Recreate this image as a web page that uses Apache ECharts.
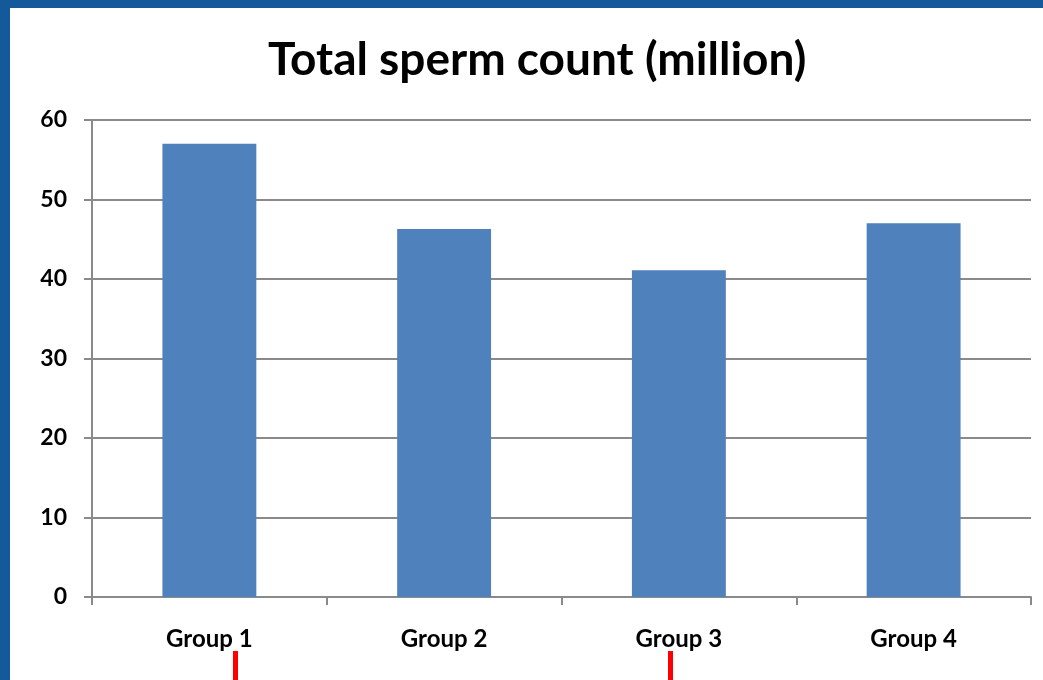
<!DOCTYPE html>
<html>
<head>
<meta charset="utf-8">
<script src="https://cdn.jsdelivr.net/npm/echarts@6/dist/echarts.min.js"></script>
<style>
  html, body { margin: 0; padding: 0; width: 1043px; height: 680px; overflow: hidden; background: #145a9b; }
  #chart { position: absolute; left: 10px; top: 8px; width: 1033px; height: 672px; background: #ffffff; }
</style>
</head>
<body>
<div id="chart"></div>
<script>
// Chart data
const titleText = 'Total sperm count (million)';
const categories = ['Group 1', 'Group 2', 'Group 3', 'Group 4'];
const spermCount = [57.0, 46.3, 41.1, 47.0];
const yTicks = [0, 10, 20, 30, 40, 50, 60];

const FONT = 'Lato, "Open Sans", sans-serif';
const chart = echarts.init(document.getElementById('chart'), null, { renderer: 'canvas' });

chart.setOption({
  animation: false,
  backgroundColor: '#ffffff',
  title: {
    text: titleText,
    left: 258,
    top: 29,
    padding: 0,
    textStyle: { fontFamily: FONT, fontWeight: 'bold', fontSize: 46, color: '#000000' }
  },
  grid: { left: 82, right: 12, top: 112, bottom: 83, containLabel: false },
  xAxis: {
    type: 'category',
    data: categories,
    axisLine: { lineStyle: { color: '#8a8a8a', width: 2 } },
    axisTick: { show: true, length: 8, alignWithLabel: false, lineStyle: { color: '#8a8a8a', width: 2 } },
    axisLabel: { margin: 30, fontFamily: FONT, fontWeight: 'bold', fontSize: 24, color: '#000000' }
  },
  yAxis: {
    type: 'value',
    min: yTicks[0],
    max: yTicks[yTicks.length - 1],
    interval: 10,
    axisLine: { show: true, lineStyle: { color: '#8a8a8a', width: 2 } },
    axisTick: { show: true, length: 8, lineStyle: { color: '#8a8a8a', width: 2 } },
    splitLine: { show: true, lineStyle: { color: '#8a8a8a', width: 2 } },
    axisLabel: { margin: 25, fontFamily: FONT, fontWeight: 'bold', fontSize: 23, color: '#000000' }
  },
  series: [{
    type: 'bar',
    data: spermCount,
    barWidth: '40%',
    itemStyle: { color: '#4f81bd' }
  }],
  graphic: [
    { type: 'rect', shape: { x: 223, y: 643, width: 5, height: 29 }, style: { fill: '#ff0000' } },
    { type: 'rect', shape: { x: 658, y: 643, width: 5, height: 29 }, style: { fill: '#ff0000' } }
  ]
});
</script>
</body>
</html>
